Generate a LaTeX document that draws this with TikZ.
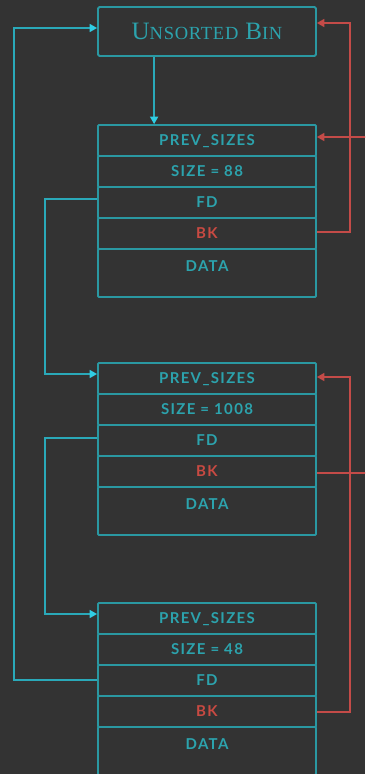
\documentclass[tikz,border=0pt]{standalone}
\usepackage{fontspec}
\usetikzlibrary{arrows.meta}
\newfontfamily\rowfont[LetterSpace=9]{Lato}
\newfontfamily\headfont[LetterSpace=4]{Liberation Serif}
\definecolor{bg}{HTML}{333333}
\definecolor{boxline}{HTML}{2A98A2}
\definecolor{boxtext}{HTML}{2CA3AD}
\definecolor{linkline}{HTML}{2AA9B9}
\definecolor{linktip}{HTML}{30CDE3}
\definecolor{bkline}{HTML}{C44B48}
\definecolor{bktext}{HTML}{C94A42}
% hand-made small caps for the bin title
\newcommand{\headbig}[1]{{\fontsize{25}{27}\selectfont #1}}
\newcommand{\headsmall}[1]{{\fontsize{18.5}{20}\selectfont #1}}
\tikzset{
  row/.style={draw=boxline, line width=1.8pt, rounded corners=1pt,
    minimum width=218pt, minimum height=31pt, inner sep=0pt,
    text height=10pt, text depth=0pt, text=boxtext,
    font=\rowfont\bfseries\fontsize{15}{17}\selectfont},
  datarow/.style={row, minimum height=48pt, text height=15pt, text depth=18pt, inner ysep=7pt},
  bkrow/.style={row, text=bktext},
  binbox/.style={draw=boxline, line width=1.8pt, rounded corners=1.5pt,
    minimum width=218pt, minimum height=49pt, inner sep=0pt, text=boxtext,
    font=\headfont},
  fdlink/.style={draw=linkline, line width=1.6pt},
  fdarrow/.style={fdlink, -{Triangle[length=7.5pt, width=8pt, color=linktip]}},
  bklink/.style={draw=bkline, line width=1.6pt},
  bkarrow/.style={bklink, -{Triangle[length=7.5pt, width=8pt]}},
}
\begin{document}
\begin{tikzpicture}[x=1pt, y=-1pt]
  \fill[bg] (0,0) rectangle (365,774);
  \useasboundingbox (0,0) rectangle (365,774);
  \clip (0,0) rectangle (365,774);

  % rails for the long connectors
  \coordinate (railL) at (14,0);
  \coordinate (railM) at (45,0);
  \coordinate (railR) at (350,0);
  \coordinate (railOut) at (380,0);

  % bin head
  \node[binbox] (bin) at (207,31.5)
    {\headbig{U}\headsmall{NSORTED}\hspace{7pt}\headbig{B}\headsmall{IN}};

  % chunk 1
  \node[row]     (c1p) at (207,140.5) {PREV\_SIZES};
  \node[row]     (c1s) at (207,171.5) {SIZE = 88};
  \node[row]     (c1f) at (207,202.5) {FD};
  \node[bkrow]   (c1b) at (207,233.5) {BK};
  \node[datarow] (c1d) at (207,273)   {DATA};

  % chunk 2
  \node[row]     (c2p) at (207,378.5) {PREV\_SIZES};
  \node[row]     (c2s) at (207,409.5) {SIZE = 1008};
  \node[row]     (c2f) at (207,440.5) {FD};
  \node[bkrow]   (c2b) at (207,471.5) {BK};
  \node[datarow] (c2d) at (207,511)   {DATA};

  % chunk 3
  \node[row]     (c3p) at (207,618.5) {PREV\_SIZES};
  \node[row]     (c3s) at (207,649.5) {SIZE = 48};
  \node[row]     (c3f) at (207,680.5) {FD};
  \node[bkrow]   (c3b) at (207,711.5) {BK};
  \node[datarow] (c3d) at (207,751)   {DATA};

  % forward links
  \draw[fdarrow] ([xshift=57pt]bin.south west) -- ([xshift=57pt]c1p.north west);
  \draw[fdarrow] ([yshift=3.5pt]c1f.west) -- ([yshift=3.5pt]c1f.west -| railM)
                 |- ([yshift=4.5pt]c2p.west);
  \draw[fdarrow] ([yshift=2.5pt]c2f.west) -- ([yshift=2.5pt]c2f.west -| railM)
                 |- ([yshift=4.5pt]c3p.west);
  \draw[fdarrow] ([yshift=0.5pt]c3f.west) -- ([yshift=0.5pt]c3f.west -| railL)
                 |- ([yshift=3.5pt]bin.west);

  % backward links
  \draw[bkarrow] ([yshift=1.5pt]c1b.east) -- ([yshift=1.5pt]c1b.east -| railR)
                 |- ([yshift=8.5pt]bin.east);
  \draw[bkarrow] ([yshift=-1.5pt]c2b.east) -- ([yshift=-1.5pt]c2b.east -| railOut)
                 |- ([yshift=3.5pt]c1p.east);
  \draw[bkarrow] ([yshift=-0.5pt]c3b.east) -- ([yshift=-0.5pt]c3b.east -| railR)
                 |- ([yshift=1.5pt]c2p.east);
\end{tikzpicture}
\end{document}
